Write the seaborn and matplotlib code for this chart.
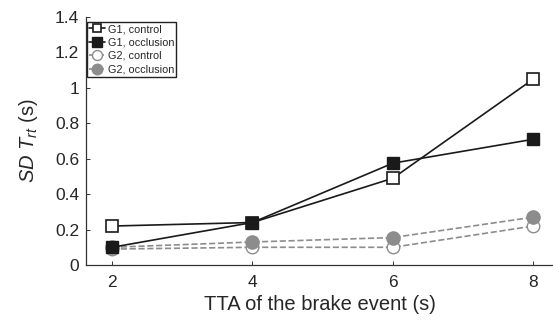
import matplotlib
matplotlib.use("Agg")
import matplotlib.pyplot as plt
import seaborn as sns
import pandas as pd
from matplotlib.ticker import FuncFormatter

sns.set_style("white")
plt.rcParams["font.family"] = ["Liberation Sans", "DejaVu Sans"]
plt.rcParams["mathtext.fontset"] = "custom"
plt.rcParams["mathtext.rm"] = "Liberation Sans"
plt.rcParams["mathtext.it"] = "Liberation Sans:italic"

tta = [2, 4, 6, 8]
g1_control = [0.22, 0.24, 0.49, 1.05]
g1_occlusion = [0.10, 0.24, 0.575, 0.71]
g2_control = [0.09, 0.10, 0.10, 0.22]
g2_occlusion = [0.10, 0.13, 0.155, 0.27]
series_names = ["G1, control", "G1, occlusion", "G2, control", "G2, occlusion"]
y_ticks = [0, 0.2, 0.4, 0.6, 0.8, 1.0, 1.2, 1.4]

frames = []
for name, vals in zip(series_names, [g1_control, g1_occlusion, g2_control, g2_occlusion]):
    frames.append(pd.DataFrame({"tta": tta, "sd": vals, "group": name}))
df = pd.concat(frames, ignore_index=True)

gray = "#8c8c8c"
styles = {
    "G1, control": dict(color="#1a1a1a", linestyle="-", marker="s", markerfacecolor="white",
                        markeredgecolor="#1a1a1a", markersize=8, markeredgewidth=1.2, zorder=3),
    "G1, occlusion": dict(color="#1a1a1a", linestyle="-", marker="s", markerfacecolor="#1a1a1a",
                          markeredgecolor="#1a1a1a", markersize=8.5, markeredgewidth=1.0, zorder=3),
    "G2, control": dict(color=gray, linestyle="--", marker="o", markerfacecolor="white",
                        markeredgecolor=gray, markersize=9, markeredgewidth=1.0, zorder=2),
    "G2, occlusion": dict(color=gray, linestyle="--", marker="o", markerfacecolor=gray,
                          markeredgecolor=gray, markersize=9.5, markeredgewidth=1.0, zorder=2),
}

fig = plt.figure(figsize=(5.53, 3.22), dpi=100)
ax = fig.add_axes([0.1555, 0.177, 0.8445, 0.770])

for name in series_names:
    sub = df[df["group"] == name]
    sns.lineplot(data=sub, x="tta", y="sd", ax=ax, linewidth=1.2, legend=False, **styles[name])

ax.set_xlim(1.63, 8.28)
ax.set_ylim(0, 1.4)
ax.set_xticks(tta)
ax.set_yticks(y_ticks)
ax.yaxis.set_major_formatter(FuncFormatter(lambda v, p: f"{v:g}"))
ax.tick_params(axis="both", direction="in", length=3, width=0.7, labelsize=12.5, color="#333333",
               left=True, bottom=True)
ax.tick_params(axis="y", pad=5)
ax.tick_params(axis="x", pad=7)
for side in ["top", "right"]:
    ax.spines[side].set_visible(False)
for side in ["left", "bottom"]:
    ax.spines[side].set_color("#333333")
    ax.spines[side].set_linewidth(0.9)

ax.set_xlabel("TTA of the brake event (s)", fontsize=14.5, labelpad=4)
ax.set_ylabel(r"$SD\ T_{rt}$ (s)", fontsize=14.5, labelpad=11)

handles = ax.get_lines()[:4]
leg = ax.legend(handles, series_names, loc="upper left", bbox_to_anchor=(0.0, 0.985), fontsize=7.8,
                frameon=True, fancybox=False, framealpha=1, edgecolor="#222222",
                handlelength=1.5, handletextpad=0.2, borderpad=0.2, labelspacing=0.32,
                borderaxespad=0.1, markerscale=0.8)
leg.get_frame().set_linewidth(1.0)

fig.savefig("out.png", dpi=100)
